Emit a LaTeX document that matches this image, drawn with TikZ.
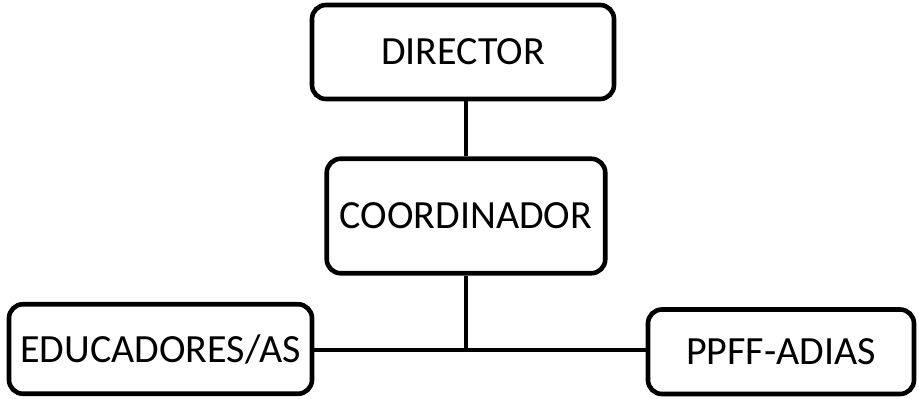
\documentclass[tikz,border=0pt]{standalone}
\usepackage{fontspec}
\setmainfont{Carlito}
\begin{document}
\begin{tikzpicture}[x=1pt,y=-1pt,
  orgbox/.style={draw=black, line width=4.6pt, rounded corners=14pt, fill=white,
    inner sep=0pt, font=\fontsize{40}{48}\selectfont, text=black},
  link/.style={draw=black, line width=4.6pt, line join=round}]
\useasboundingbox (0,0) rectangle (919,399);
\node[orgbox, minimum width=302pt, minimum height=94pt] (dir) at (463,52) {DIRECTOR};
\node[orgbox, minimum width=278.5pt, minimum height=114.5pt] (coord) at (466,216) {COORDINADOR};
\node[orgbox, minimum width=303pt, minimum height=89.5pt] (edu) at (160.5,349) {EDUCADORES/AS};
\node[orgbox, minimum width=266pt, minimum height=84.5pt] (ppff) at (781,351.75) {PPFF-ADIAS};
\coordinate (j) at (466,350);
\draw[link] (coord.north) -- (coord.north |- dir.south);
\draw[link] (j -| edu.east) -- (j) -- (coord.south);
\draw[link] (j) -- (j -| ppff.west);
\end{tikzpicture}
\end{document}
